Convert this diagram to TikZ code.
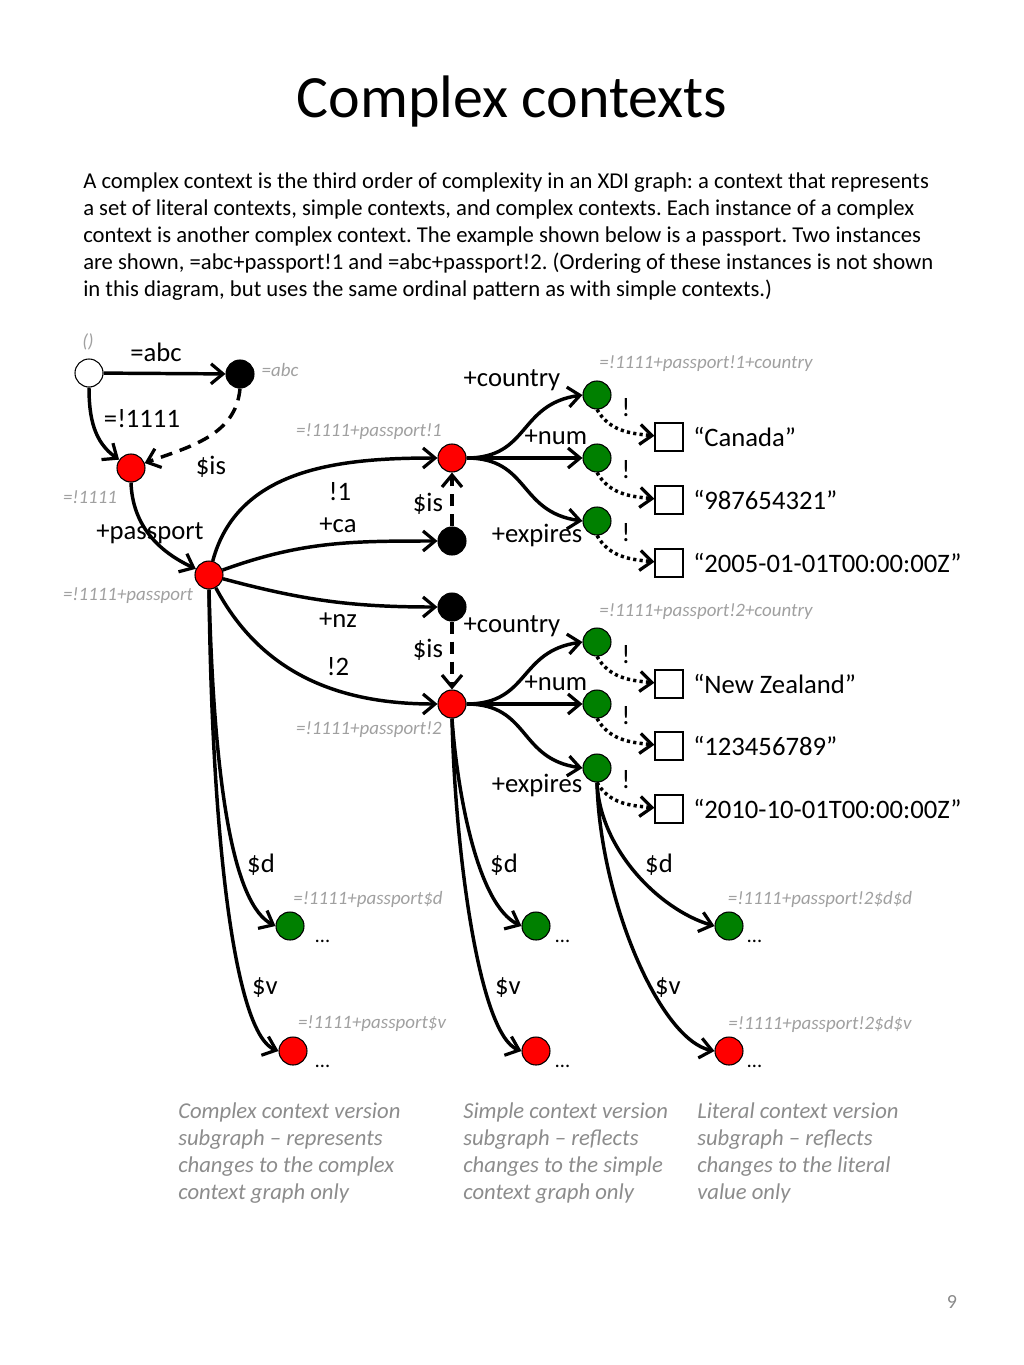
\documentclass[tikz,border=0pt]{standalone}
\usepackage{fontspec}
\setmainfont{Carlito}
\usetikzlibrary{arrows.meta}
\definecolor{nred}{RGB}{255,0,0}
\definecolor{ngreen}{RGB}{0,128,0}
\definecolor{lbl}{RGB}{160,160,160}
\definecolor{captxt}{RGB}{140,140,140}
\definecolor{pgnum}{RGB}{137,137,137}
\frenchspacing
\begin{document}
\begin{tikzpicture}[x=0.75pt,y=-0.75pt,
  dot/.style={circle,draw=black,line width=0.8pt,minimum size=21pt,inner sep=0pt},
  rednode/.style={dot,fill=nred},
  greennode/.style={dot,fill=ngreen},
  blacknode/.style={dot,fill=black},
  whitenode/.style={dot,fill=white},
  litbox/.style={rectangle,draw=black,line width=0.8pt,fill=white,minimum size=21pt,inner sep=0pt},
  arc/.style={line width=2.6pt,-{Straight Barb[length=9pt,width=15pt,line width=2.4pt]}},
  isarc/.style={arc,dash pattern=on 9pt off 6pt},
  litarc/.style={arc,dash pattern=on 2.4pt off 2.4pt},
  elabel/.style={font=\fontsize{20}{24}\selectfont,inner sep=0pt},
  litlabel/.style={font=\fontsize{20}{24}\selectfont,inner sep=0pt,anchor=west},
  glabel/.style={font=\fontsize{14.2}{17}\selectfont\itshape,text=lbl,inner sep=0pt},
  bodyline/.style={font=\fontsize{17}{20}\selectfont,inner sep=0pt,anchor=base west},
  capline/.style={font=\fontsize{17}{20}\selectfont\itshape,text=captxt,inner sep=0pt,anchor=base west},
  dots/.style={font=\fontsize{15.5}{18}\selectfont,inner sep=0pt,anchor=base west}
]
\useasboundingbox (0,0) rectangle (1024,1365);

% title and text
\node[font=\fontsize{45}{54}\selectfont,inner sep=0pt,anchor=base] (title) at (512,117) {Complex contexts};
\node[bodyline] (t1) at (83,188) {A complex context is the third order of complexity in an XDI graph: a context that represents};
\node[bodyline] (t2) at (83,215) {a set of literal contexts, simple contexts, and complex contexts. Each instance of a complex};
\node[bodyline] (t3) at (83,242) {context is another complex context. The example shown below is a passport. Two instances};
\node[bodyline] (t4) at (83,269) {are shown, =abc+passport!1 and =abc+passport!2. (Ordering of these instances is not shown};
\node[bodyline] (t5) at (83,296) {in this diagram, but uses the same ordinal pattern as with simple contexts.)};

% graph nodes
\node[whitenode] (root) at (89,373) {};
\node[blacknode] (abc) at (240,374) {};
\node[rednode] (n1111) at (131,468) {};
\node[rednode] (passport) at (209,575) {};
\node[rednode] (p1) at (452,458) {};
\node[blacknode] (ca) at (452,541) {};
\node[blacknode] (nz) at (452,607) {};
\node[rednode] (p2) at (452,704) {};
\node[greennode] (g1c) at (597,395) {};
\node[greennode] (g1n) at (597,458) {};
\node[greennode] (g1e) at (597,521) {};
\node[greennode] (g2c) at (597,642) {};
\node[greennode] (g2n) at (597,704) {};
\node[greennode] (g2e) at (597,768) {};
\node[litbox] (s1c) at (669,437) {};
\node[litbox] (s1n) at (669,500) {};
\node[litbox] (s1e) at (669,563) {};
\node[litbox] (s2c) at (669,684) {};
\node[litbox] (s2n) at (669,746) {};
\node[litbox] (s2e) at (669,809) {};
\node[greennode] (dd1) at (290,926) {};
\node[rednode] (dv1) at (293,1051) {};
\node[greennode] (dd2) at (536,926) {};
\node[rednode] (dv2) at (536,1051) {};
\node[greennode] (dd3) at (729,926) {};
\node[rednode] (dv3) at (729,1051) {};

% connectors
\draw[arc] (root) -- (abc);
\draw[arc] (root.south) to[out=-90,in=145] (n1111);
\draw[isarc] (abc.south) to[out=-95,in=20] (n1111);
\draw[arc] (n1111.south) to[out=-88,in=155] (passport);
\draw[arc] (passport) to[out=75,in=180] (p1);
\draw[arc] (passport) to[out=20,in=180] (ca);
\draw[arc] (passport) to[out=-15,in=180] (nz);
\draw[arc] (passport) to[out=-62,in=180] (p2);
\draw[isarc] (ca) -- (p1);
\draw[isarc] (nz) -- (p2);

\draw[arc] (p1.east) .. controls (530,458) and (518,404) .. (g1c.west);
\draw[arc] (p1) -- (g1n);
\draw[arc] (p1.east) .. controls (530,458) and (518,512) .. (g1e.west);
\draw[arc] (p2.east) .. controls (530,704) and (518,651) .. (g2c.west);
\draw[arc] (p2) -- (g2n);
\draw[arc] (p2.east) .. controls (530,704) and (518,759) .. (g2e.west);

\draw[litarc] (g1c.south) to[out=-60,in=175] (s1c);
\draw[litarc] (g1n.south) to[out=-60,in=175] (s1n);
\draw[litarc] (g1e.south) to[out=-60,in=175] (s1e);
\draw[litarc] (g2c.south) to[out=-60,in=175] (s2c);
\draw[litarc] (g2n.south) to[out=-60,in=175] (s2n);
\draw[litarc] (g2e.south) to[out=-60,in=175] (s2e);

\draw[arc] (passport.south) .. controls (214,790) and (234,905) .. (dd1.west);
\draw[arc] (passport.south) .. controls (212,850) and (236,1035) .. (dv1.west);
\draw[arc] (p2.south) .. controls (457,790) and (477,905) .. (dd2.west);
\draw[arc] (p2.south) .. controls (455,850) and (479,1035) .. (dv2.west);
\draw[arc] (g2e.south) .. controls (600,850) and (660,910) .. (dd3.west);
\draw[arc] (g2e.south) .. controls (600,900) and (660,1040) .. (dv3.west);

% edge labels
\node[elabel] (l-abc) at (156,352) {=abc};
\node[elabel] (l-1111) at (142,419) {=!1111};
\node[elabel] (l-is0) at (211,467) {\$is};
\node[elabel] (l-pass) at (150,533) {+passport};
\node[elabel] (l-i1) at (340,492) {!1};
\node[elabel] (l-ca) at (338,525) {+ca};
\node[elabel] (l-is1) at (428,504) {\$is};
\node[elabel] (l-nz) at (338,620) {+nz};
\node[elabel] (l-i2) at (338,667) {!2};
\node[elabel] (l-is2) at (428,650) {\$is};
\node[elabel] (l-c1) at (512,380) {+country};
\node[elabel] (l-n1) at (556,437) {+num};
\node[elabel] (l-e1) at (537,535) {+expires};
\node[elabel] (l-c2) at (512,626) {+country};
\node[elabel] (l-n2) at (556,683) {+num};
\node[elabel] (l-e2) at (537,785) {+expires};
\node[elabel] (x1) at (626,408) {!};
\node[elabel] (x2) at (626,470) {!};
\node[elabel] (x3) at (626,533) {!};
\node[elabel] (x4) at (626,655) {!};
\node[elabel] (x5) at (626,716) {!};
\node[elabel] (x6) at (626,780) {!};
\node[elabel] (d1) at (261,865) {\$d};
\node[elabel] (d2) at (504,865) {\$d};
\node[elabel] (d3) at (659,865) {\$d};
\node[elabel] (v1) at (265,988) {\$v};
\node[elabel] (v2) at (508,988) {\$v};
\node[elabel] (v3) at (668,988) {\$v};

% literal values
\node[litlabel] (lv1) at (693,437) {“Canada”};
\node[litlabel] (lv2) at (693,500) {“987654321”};
\node[litlabel] (lv3) at (693,563) {“2005-01-01T00:00:00Z”};
\node[litlabel] (lv4) at (693,684) {“New Zealand”};
\node[litlabel] (lv5) at (693,746) {“123456789”};
\node[litlabel] (lv6) at (693,809) {“2010-10-01T00:00:00Z”};

% ellipses
\node[dots] (e1) at (315,942) {…};
\node[dots] (e2) at (555,942) {…};
\node[dots] (e3) at (747,942) {…};
\node[dots] (e4) at (315,1067) {…};
\node[dots] (e5) at (555,1067) {…};
\node[dots] (e6) at (747,1067) {…};

% grey address labels
\node[glabel] (g-root) at (88,342) {()};
\node[glabel] (g-abc) at (280,370) {=abc};
\node[glabel] (g-1111) at (90,497) {=!1111};
\node[glabel] (g-pass) at (128,596) {=!1111+passport};
\node[glabel] (g-p1) at (369,432) {=!1111+passport!1};
\node[glabel] (g-p1c) at (706,364) {=!1111+passport!1+country};
\node[glabel] (g-p2c) at (706,612) {=!1111+passport!2+country};
\node[glabel] (g-p2) at (369,730) {=!1111+passport!2};
\node[glabel] (g-pd) at (368,899) {=!1111+passport\$d};
\node[glabel] (g-pv) at (372,1024) {=!1111+passport\$v};
\node[glabel] (g-dd) at (820,899) {=!1111+passport!2\$d\$d};
\node[glabel] (g-dv) at (820,1024) {=!1111+passport!2\$d\$v};

% captions
\node[capline] (ca1) at (178,1118) {Complex context version};
\node[capline] (ca2) at (178,1145) {subgraph – represents};
\node[capline] (ca3) at (178,1172) {changes to the complex};
\node[capline] (ca4) at (178,1199) {context graph only};
\node[capline] (cb1) at (463,1118) {Simple context version};
\node[capline] (cb2) at (463,1145) {subgraph – reflects};
\node[capline] (cb3) at (463,1172) {changes to the simple};
\node[capline] (cb4) at (463,1199) {context graph only};
\node[capline] (cc1) at (697,1118) {Literal context version};
\node[capline] (cc2) at (697,1145) {subgraph – reflects};
\node[capline] (cc3) at (697,1172) {changes to the literal};
\node[capline] (cc4) at (697,1199) {value only};

\node[font=\fontsize{15}{18}\selectfont,text=pgnum,inner sep=0pt] (page) at (952,1302) {9};
\end{tikzpicture}
\end{document}
